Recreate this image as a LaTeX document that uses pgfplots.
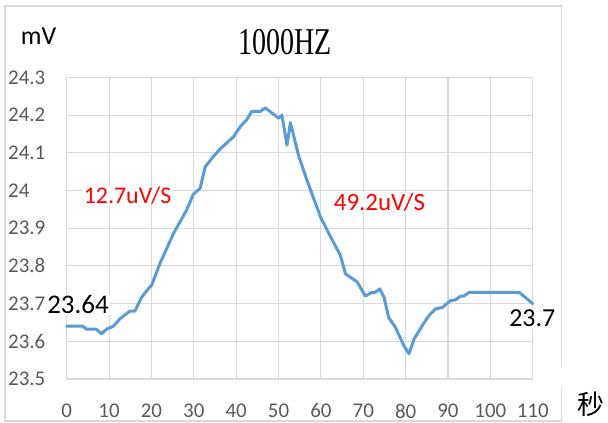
\documentclass[border=0pt]{standalone}
\usepackage{pgfplots}
\pgfplotsset{compat=1.18}
\usepackage{fontspec}
\setmainfont{Carlito}
\newfontfamily\titlefont{Liberation Serif}
\newfontfamily\cjk{Noto Sans CJK SC}

\definecolor{linblue}{HTML}{5B9BD5}
\definecolor{gridgray}{HTML}{D9D9D9}
\definecolor{ticktext}{HTML}{595959}

\pgfplotstableread{
t v
0 23.64
3.8 23.64
4.7 23.632
7.0 23.632
8.2 23.62
9.4 23.632
11.0 23.64
12.6 23.66
14.9 23.68
16.1 23.68
17.7 23.717
19.3 23.74
20.1 23.75
22.0 23.806
25.2 23.886
28.3 23.948
29.9 23.99
31.5 24.006
32.7 24.063
34.6 24.09
36.2 24.11
39.4 24.143
41.0 24.17
42.5 24.188
43.7 24.21
45.7 24.21
46.9 24.219
50.0 24.192
50.8 24.2
52.0 24.12
52.8 24.18
54.8 24.09
56.7 24.028
59.9 23.93
62.3 23.877
64.6 23.828
65.8 23.779
68.6 23.757
70.5 23.72
72.1 23.73
72.9 23.73
73.9 23.739
74.9 23.717
76.0 23.663
77.6 23.637
79.6 23.588
80.8 23.567
82.0 23.606
83.9 23.641
85.5 23.668
87.1 23.686
88.7 23.69
90.6 23.708
91.8 23.71
93.0 23.72
93.8 23.72
95.0 23.73
106.8 23.73
110 23.70
}\voltage

\begin{document}
\begin{tikzpicture}
\begin{axis}[
  at={(0,0)}, anchor=south west,
  scale only axis,
  width=466bp, height=301.6bp,
  xmin=0, xmax=110, ymin=23.5, ymax=24.3,
  xtick={0,10,...,110},
  ytick={23.5,23.6,23.7,23.8,23.9,24,24.1,24.2,24.3},
  yticklabels={23.5,23.6,23.7,23.8,23.9,24,24.1,24.2,24.3},
  major tick length=0pt,
  grid=major,
  grid style={gridgray, line width=1.1bp},
  axis line style={gridgray, line width=1.1bp},
  /pgf/number format/assume math mode=true,
  tick label style={font=\fontsize{21}{25}\selectfont, text=ticktext, inner sep=0pt},
  xticklabel style={anchor=center, yshift=-32bp},
  yticklabel style={anchor=west, xshift=-58.7bp},
  clip=false,
]
\addplot[linblue, line width=3bp, line join=round, line cap=round] table[x=t, y=v] {\voltage};
\node[fill=white, inner sep=1pt, font=\fontsize{27}{30}\selectfont] at (axis cs:2.67,23.697) {23.64};
\node[fill=white, inner sep=1pt, font=\fontsize{26}{30}\selectfont] at (axis cs:109.9,23.661) {23.7};
\node[fill=white, inner sep=1pt, text=red, font=\fontsize{24}{28}\selectfont] at (axis cs:14.37,23.987) {12.7uV/S};
\node[fill=white, inner sep=1pt, text=red, font=\fontsize{25}{28}\selectfont] at (axis cs:73.83,23.969) {49.2uV/S};
\end{axis}
% chart frame, open on the right beside the unit label
\draw[gridgray, line width=1.1bp] (495bp,12bp) -- (495bp,373bp) -- (-61.7bp,373bp) -- (-61.7bp,-42bp) -- (495bp,-42bp) -- (495bp,-9bp);
\node[font=\fontsize{26}{30}\selectfont] at (-28.2bp,342.5bp) {mV};
\node at (218.3bp,336.5bp) {\scalebox{0.74}[1]{\titlefont\fontsize{38}{42}\selectfont 1000HZ}};
\node[font=\cjk\fontsize{27}{30}\selectfont] at (524.3bp,-25bp) {秒};
\pgfresetboundingbox
\useasboundingbox (-66.7bp,-44bp) rectangle (541.3bp,379bp);
\end{tikzpicture}
\end{document}
